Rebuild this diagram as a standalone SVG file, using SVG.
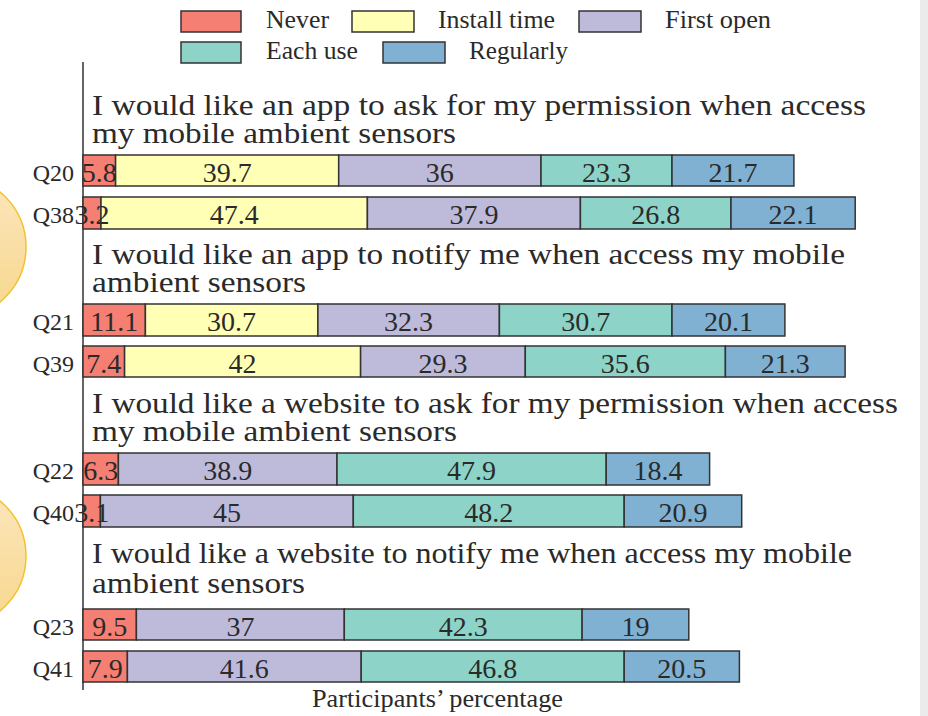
<svg xmlns="http://www.w3.org/2000/svg" width="928" height="716" viewBox="0 0 928 716">
<style>
  .t { font-family: "Liberation Serif", "DejaVu Serif", serif; fill: #2a2a2a; }
  .title { font-size: 30px; }
  .leg { font-size: 25px; }
  .q { font-size: 24px; text-anchor: end; }
  .v { font-size: 28px; text-anchor: middle; }
  .seg { stroke: #333; stroke-width: 1.5; }
  .N { fill: #f47f72; }
  .I { fill: #ffffb5; }
  .F { fill: #bebada; }
  .E { fill: #8dd3c7; }
  .R { fill: #80b1d3; }
</style>
<defs>
  <linearGradient id="circ" x1="0" y1="0" x2="0" y2="1">
    <stop offset="0" stop-color="#fbe6be"/>
    <stop offset="1" stop-color="#f8d78c"/>
  </linearGradient>
</defs>
<rect x="0" y="0" width="928" height="716" fill="#ffffff"/>
<rect x="920" y="0" width="8" height="716" fill="#ebebeb"/>

<g id="deco">
  <circle cx="-45" cy="247" r="71" fill="url(#circ)" stroke="#f2c22e" stroke-width="1.5"/>
  <circle cx="-45" cy="556" r="71" fill="url(#circ)" stroke="#f2c22e" stroke-width="1.5"/>
</g>

<g id="legend">
  <rect class="seg N" x="181" y="11" width="60" height="21"/>
  <text class="t leg" x="266" y="28" textLength="63" lengthAdjust="spacingAndGlyphs">Never</text>
  <rect class="seg I" x="352" y="11" width="62" height="21"/>
  <text class="t leg" x="438" y="28" textLength="117" lengthAdjust="spacingAndGlyphs">Install time</text>
  <rect class="seg F" x="579" y="11" width="62" height="21"/>
  <text class="t leg" x="665" y="28" textLength="106" lengthAdjust="spacingAndGlyphs">First open</text>
  <rect class="seg E" x="181" y="42" width="60" height="21"/>
  <text class="t leg" x="266" y="59" textLength="92" lengthAdjust="spacingAndGlyphs">Each use</text>
  <rect class="seg R" x="383" y="42" width="62" height="21"/>
  <text class="t leg" x="469" y="59" textLength="99" lengthAdjust="spacingAndGlyphs">Regularly</text>
</g>

<g id="axis">
  <line x1="83" y1="62" x2="83" y2="690" stroke="#333" stroke-width="1.5"/>
  <text class="t leg" x="312" y="707" textLength="251" lengthAdjust="spacingAndGlyphs">Participants’ percentage</text>
</g>

<g id="title1">
  <text class="t title" x="92" y="115" textLength="774" lengthAdjust="spacingAndGlyphs">I would like an app to ask for my permission when access</text>
  <text class="t title" x="92" y="143" textLength="364" lengthAdjust="spacingAndGlyphs">my mobile ambient sensors</text>
</g>
<g id="title2">
  <text class="t title" x="92" y="264" textLength="753" lengthAdjust="spacingAndGlyphs">I would like an app to notify me when access my mobile</text>
  <text class="t title" x="92" y="292" textLength="214" lengthAdjust="spacingAndGlyphs">ambient sensors</text>
</g>
<g id="title3">
  <text class="t title" x="92" y="413" textLength="806" lengthAdjust="spacingAndGlyphs">I would like a website to ask for my permission when access</text>
  <text class="t title" x="92" y="441" textLength="365" lengthAdjust="spacingAndGlyphs">my mobile ambient sensors</text>
</g>
<g id="title4">
  <text class="t title" x="92" y="563" textLength="760" lengthAdjust="spacingAndGlyphs">I would like a website to notify me when access my mobile</text>
  <text class="t title" x="92" y="593" textLength="213" lengthAdjust="spacingAndGlyphs">ambient sensors</text>
</g>

<g id="Q20">
  <rect class="seg N" x="83" y="155" width="32.6" height="31"/>
  <rect class="seg I" x="115.6" y="155" width="223.1" height="31"/>
  <rect class="seg F" x="338.7" y="155" width="202.3" height="31"/>
  <rect class="seg E" x="541" y="155" width="131" height="31"/>
  <rect class="seg R" x="672" y="155" width="121.9" height="31"/>
  <text class="t q" x="74" y="181">Q20</text>
  <text class="t v" x="99.3" y="182">5.8</text>
  <text class="t v" x="227.2" y="182">39.7</text>
  <text class="t v" x="439.8" y="182">36</text>
  <text class="t v" x="606.5" y="182">23.3</text>
  <text class="t v" x="733" y="182">21.7</text>
</g>
<g id="Q38">
  <rect class="seg N" x="83" y="197" width="18" height="32"/>
  <rect class="seg I" x="101" y="197" width="266.4" height="32"/>
  <rect class="seg F" x="367.4" y="197" width="213" height="32"/>
  <rect class="seg E" x="580.4" y="197" width="150.6" height="32"/>
  <rect class="seg R" x="731" y="197" width="124.2" height="32"/>
  <text class="t q" x="74" y="223">Q38</text>
  <text class="t v" x="92" y="224">3.2</text>
  <text class="t v" x="234.2" y="224">47.4</text>
  <text class="t v" x="473.9" y="224">37.9</text>
  <text class="t v" x="655.7" y="224">26.8</text>
  <text class="t v" x="793.1" y="224">22.1</text>
</g>
<g id="Q21">
  <rect class="seg N" x="83" y="304" width="62.4" height="32"/>
  <rect class="seg I" x="145.4" y="304" width="172.5" height="32"/>
  <rect class="seg F" x="317.9" y="304" width="181.5" height="32"/>
  <rect class="seg E" x="499.4" y="304" width="172.6" height="32"/>
  <rect class="seg R" x="672" y="304" width="112.9" height="32"/>
  <text class="t q" x="74" y="330">Q21</text>
  <text class="t v" x="114.2" y="331">11.1</text>
  <text class="t v" x="231.6" y="331">30.7</text>
  <text class="t v" x="408.6" y="331">32.3</text>
  <text class="t v" x="585.7" y="331">30.7</text>
  <text class="t v" x="728.4" y="331">20.1</text>
</g>
<g id="Q39">
  <rect class="seg N" x="83" y="346" width="41.6" height="31"/>
  <rect class="seg I" x="124.6" y="346" width="236" height="31"/>
  <rect class="seg F" x="360.6" y="346" width="164.7" height="31"/>
  <rect class="seg E" x="525.3" y="346" width="200.1" height="31"/>
  <rect class="seg R" x="725.4" y="346" width="119.7" height="31"/>
  <text class="t q" x="74" y="372">Q39</text>
  <text class="t v" x="103.8" y="373">7.4</text>
  <text class="t v" x="242.6" y="373">42</text>
  <text class="t v" x="442.9" y="373">29.3</text>
  <text class="t v" x="625.3" y="373">35.6</text>
  <text class="t v" x="785.2" y="373">21.3</text>
</g>
<g id="Q22">
  <rect class="seg N" x="83" y="453" width="35.4" height="32"/>
  <rect class="seg F" x="118.4" y="453" width="218.6" height="32"/>
  <rect class="seg E" x="337" y="453" width="269.2" height="32"/>
  <rect class="seg R" x="606.2" y="453" width="103.4" height="32"/>
  <text class="t q" x="74" y="479">Q22</text>
  <text class="t v" x="100.7" y="480">6.3</text>
  <text class="t v" x="227.7" y="480">38.9</text>
  <text class="t v" x="471.6" y="480">47.9</text>
  <text class="t v" x="657.9" y="480">18.4</text>
</g>
<g id="Q40">
  <rect class="seg N" x="83" y="495" width="17.4" height="32"/>
  <rect class="seg F" x="100.4" y="495" width="252.9" height="32"/>
  <rect class="seg E" x="353.3" y="495" width="270.9" height="32"/>
  <rect class="seg R" x="624.2" y="495" width="117.5" height="32"/>
  <text class="t q" x="74" y="521">Q40</text>
  <text class="t v" x="91.7" y="522">3.1</text>
  <text class="t v" x="226.9" y="522">45</text>
  <text class="t v" x="488.8" y="522">48.2</text>
  <text class="t v" x="683" y="522">20.9</text>
</g>
<g id="Q23">
  <rect class="seg N" x="83" y="609" width="53.4" height="31"/>
  <rect class="seg F" x="136.4" y="609" width="207.9" height="31"/>
  <rect class="seg E" x="344.3" y="609" width="237.8" height="31"/>
  <rect class="seg R" x="582.1" y="609" width="106.7" height="31"/>
  <text class="t q" x="74" y="635">Q23</text>
  <text class="t v" x="109.7" y="636">9.5</text>
  <text class="t v" x="240.4" y="636">37</text>
  <text class="t v" x="463.2" y="636">42.3</text>
  <text class="t v" x="635.4" y="636">19</text>
</g>
<g id="Q41">
  <rect class="seg N" x="83" y="651" width="44.4" height="31"/>
  <rect class="seg F" x="127.4" y="651" width="233.8" height="31"/>
  <rect class="seg E" x="361.2" y="651" width="263" height="31"/>
  <rect class="seg R" x="624.2" y="651" width="115.2" height="31"/>
  <text class="t q" x="74" y="677">Q41</text>
  <text class="t v" x="105.2" y="678">7.9</text>
  <text class="t v" x="244.3" y="678">41.6</text>
  <text class="t v" x="492.7" y="678">46.8</text>
  <text class="t v" x="681.8" y="678">20.5</text>
</g>
</svg>
